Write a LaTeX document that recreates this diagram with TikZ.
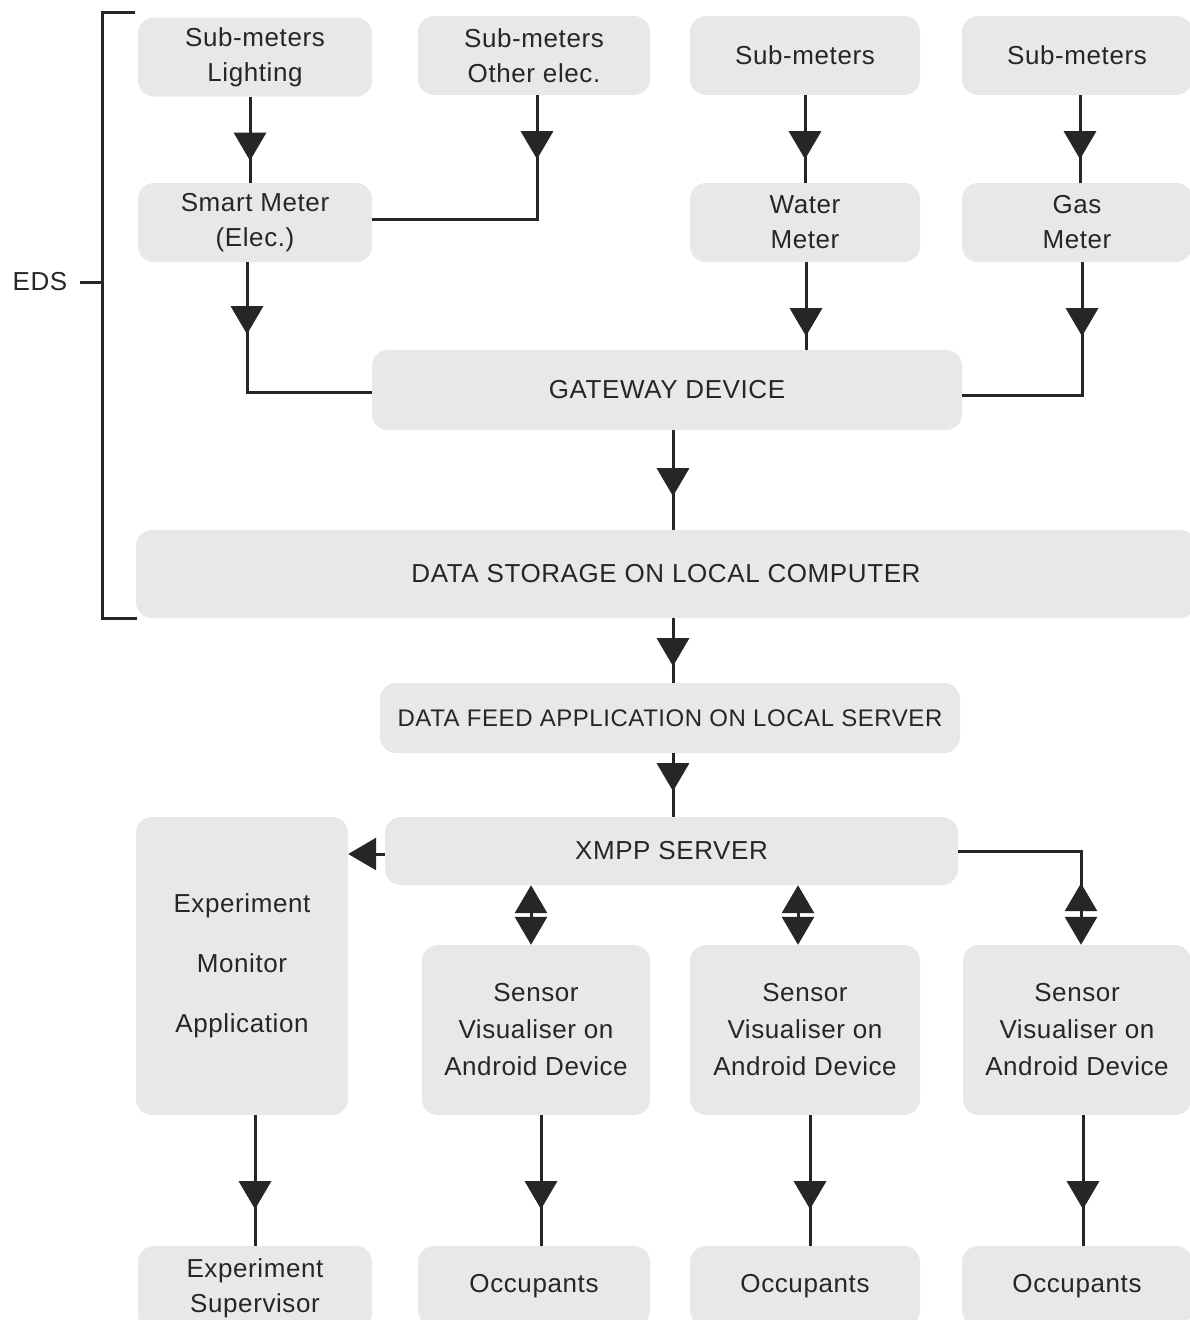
\documentclass[tikz,border=0pt]{standalone}
\usepackage{fontspec}
\setmainfont[LetterSpace=2.3]{Liberation Sans}
\usetikzlibrary{arrows.meta,decorations.markings,calc}
\definecolor{boxgray}{HTML}{E8E8E8}
\definecolor{ink}{HTML}{262626}
\begin{document}
\begin{tikzpicture}[x=1pt,y=-1pt,
  box/.style={fill=boxgray,rounded corners=16pt,draw=none,align=center,inner sep=0pt,text=ink,
     font=\fontsize{26}{35}\selectfont},
  tri/.tip={Triangle[length=28pt,width=32pt]},
  conn/.style={draw=ink,line width=3pt,fill=none},
  tipat/.style={postaction={decorate,decoration={markings,mark=at position #1 with {\arrow{tri}}}}},
  rtipat/.style={postaction={decorate,decoration={markings,mark=at position #1 with {\arrowreversed{tri}}}}}
]
\useasboundingbox (0,0) rectangle (1190,1320);
\fill[white] (0,0) rectangle (1190,1320);

% top row
\node[box,minimum width=234pt,minimum height=79pt] (subL) at (255,57) {Sub-meters\\Lighting};
\node[box,minimum width=232pt,minimum height=79pt] (subO) at (534,55.5) {Sub-meters\\Other elec.};
\node[box,minimum width=230pt,minimum height=79pt] (subW) at (805,55.5) {Sub-meters};
\node[box,minimum width=230pt,minimum height=79pt] (subG) at (1077,55.5) {Sub-meters};
% meters
\node[box,minimum width=234pt,minimum height=79pt] (smart) at (255,222.5) {Smart Meter\\(Elec.)};
\node[box,minimum width=230pt,minimum height=79pt] (water) at (805,222.5) {Water\\Meter};
\node[box,minimum width=230pt,minimum height=79pt] (gas) at (1077,222.5) {Gas\\Meter};
% gateway etc
\node[box,minimum width=590pt,minimum height=80pt] (gw) at (667,390) {GATEWAY DEVICE};
\node[box,minimum width=1060pt,minimum height=88pt] (ds) at (666,574) {DATA STORAGE ON LOCAL COMPUTER};
\node[box,minimum width=580pt,minimum height=70pt,font=\fontsize{24}{30}\selectfont] (df) at (670,718) {DATA FEED APPLICATION ON LOCAL SERVER};
\node[box,minimum width=573pt,minimum height=68pt] (xmpp) at (671.5,851) {XMPP SERVER};
% lower
\node[box,minimum width=212pt,minimum height=298pt,font=\fontsize{26}{60}\selectfont] (mon) at (242,966) {Experiment\\Monitor\\Application};
\node[box,minimum width=228pt,minimum height=170pt,font=\fontsize{26}{37}\selectfont] (s1) at (536,1030) {Sensor\\Visualiser on\\Android Device};
\node[box,minimum width=230pt,minimum height=170pt,font=\fontsize{26}{37}\selectfont] (s2) at (805,1030) {Sensor\\Visualiser on\\Android Device};
\node[box,minimum width=228pt,minimum height=170pt,font=\fontsize{26}{37}\selectfont] (s3) at (1077,1030) {Sensor\\Visualiser on\\Android Device};
% bottom row
\node[box,minimum width=234pt,minimum height=84pt] (sup) at (255,1288) {Experiment\\Supervisor};
\node[box,minimum width=232pt,minimum height=80pt] (o1) at (534,1286) {Occupants};
\node[box,minimum width=230pt,minimum height=80pt] (o2) at (805,1286) {Occupants};
\node[box,minimum width=230pt,minimum height=80pt] (o3) at (1077,1286) {Occupants};

% EDS bracket
\coordinate (bt) at (135,12);
\coordinate (bb) at (137,618);
\coordinate (bm) at (102,282);
\draw[conn] (bt) -- (102,12) -- (102,618) -- (bb);
\draw[conn] (bm) -- ++(-22,0);
\node[text=ink,font=\fontsize{26}{30}\selectfont] (eds) at (40,282) {EDS};

% connectors
\draw[conn,tipat=64pt] ([xshift=-5pt]subL.south) -- ([xshift=-5pt]smart.north);
\draw[conn,tipat=64pt] ([xshift=3pt]subO.south) |- ([yshift=3pt]smart.east);
\draw[conn,tipat=64pt] (subW.south) -- (water.north);
\draw[conn,tipat=64pt] ([xshift=3pt]subG.south) -- ([xshift=3pt]gas.north);
\draw[conn,tipat=72pt] ([xshift=-8pt]smart.south) |- ([yshift=-2pt]gw.west);
\draw[conn,tipat=74pt] ([xshift=1pt]water.south) -- ([xshift=1pt]water.south |- gw.north);
\draw[conn,tipat=74pt] ([xshift=5pt]gas.south) |- ([yshift=-5pt]gw.east);
\coordinate (cx) at ([xshift=3pt]df.north);
\draw[conn,tipat=66pt] (cx |- gw.south) -- (cx |- ds.north);
\draw[conn,tipat=48pt] (cx |- ds.south) -- (cx);
\draw[conn,tipat=38pt] (cx |- df.south) -- (cx |- xmpp.north);
\draw[conn,-{tri}] ([yshift=-3pt]xmpp.west) -- ([yshift=-3pt]xmpp.west -| mon.east);
\draw[conn,{tri}-{tri}] ([xshift=-5pt]s1.north |- xmpp.south) -- ([xshift=-5pt]s1.north);
\draw[conn,{tri}-{tri}] ([xshift=-7pt]s2.north |- xmpp.south) -- ([xshift=-7pt]s2.north);
\draw[conn,rtipat=155pt,-{tri}] (xmpp.east) -| ([xshift=4pt]s3.north);
\draw[conn,tipat=94pt] (sup.north |- mon.south) -- (sup.north);
\draw[conn,tipat=94pt] ([xshift=5pt]s1.south) -- ([xshift=5pt]s1.south |- o1.north);
\draw[conn,tipat=94pt] ([xshift=5pt]s2.south) -- ([xshift=5pt]s2.south |- o2.north);
\draw[conn,tipat=94pt] ([xshift=6pt]s3.south) -- ([xshift=6pt]s3.south |- o3.north);
\end{tikzpicture}
\end{document}
